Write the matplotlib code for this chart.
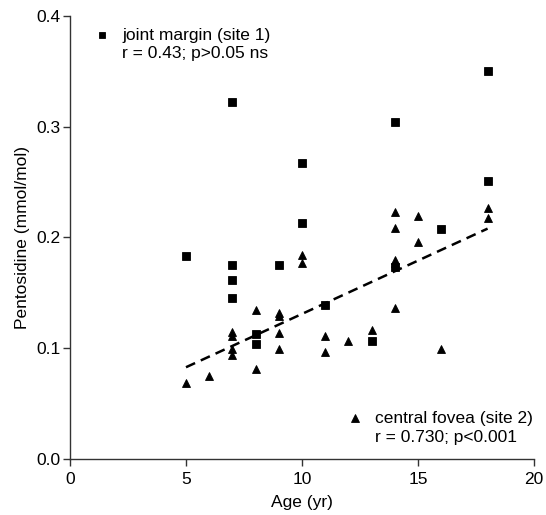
import numpy as np
import matplotlib
matplotlib.use("Agg")
from matplotlib import pyplot as plt

plt.rcParams['font.family'] = ['Liberation Sans', 'DejaVu Sans']

# joint margin (site 1)
site1_age = [5, 7, 7, 7, 7, 8, 8, 9, 10, 10, 11, 13, 14, 14, 16, 18, 18]
site1_pent = [0.183, 0.322, 0.175, 0.162, 0.145, 0.113, 0.104, 0.175, 0.267,
              0.213, 0.139, 0.107, 0.304, 0.173, 0.208, 0.350, 0.251]

# central fovea (site 2)
site2_age = [5, 6, 7, 7, 7, 7, 8, 8, 9, 9, 9, 9, 10, 10, 11, 11, 12, 13,
             14, 14, 14, 14, 14, 15, 15, 16, 18, 18]
site2_pent = [0.069, 0.075, 0.115, 0.111, 0.099, 0.094, 0.135, 0.081, 0.132,
              0.129, 0.114, 0.099, 0.184, 0.177, 0.111, 0.097, 0.107, 0.117,
              0.223, 0.209, 0.180, 0.177, 0.136, 0.219, 0.196, 0.099, 0.227,
              0.218]

# regression line for site 2
fit_age = [5, 18]
fit_pent = [0.083, 0.208]

fig = plt.figure(figsize=(5.46, 5.15), dpi=100)
ax = fig.add_axes([0.1282, 0.1082, 0.8498, 0.8613])

ax.plot(fit_age, fit_pent, ls=(0, (4, 2.5)), color='black', lw=1.8, zorder=2)
ax.plot(site1_age, site1_pent, ls='none', marker='s', ms=5.4, mew=0.6,
        color='black', zorder=3)
ax.plot(site2_age, site2_pent, ls='none', marker='^', ms=5.8, mew=0.6,
        color='black', zorder=3)

ax.set_xlim(0, 20)
ax.set_ylim(0, 0.4)
ax.set_xticks([0, 5, 10, 15, 20])
ax.set_yticks([0.0, 0.1, 0.2, 0.3, 0.4])
ax.set_yticklabels(['0.0', '0.1', '0.2', '0.3', '0.4'])
for s in ['top', 'right']:
    ax.spines[s].set_visible(False)
for s in ['left', 'bottom']:
    ax.spines[s].set_linewidth(1.0)
    ax.spines[s].set_color('#333333')
ax.tick_params(axis='x', direction='out', length=5, width=1.0, color='#333333',
               labelsize=12.5, pad=4)
ax.tick_params(axis='y', direction='out', length=5, width=1.0, color='#333333',
               labelsize=12.5, pad=2)
ax.set_xlabel('Age (yr)', fontsize=12.5, labelpad=6)
ax.set_ylabel('Pentosidine (mmol/mol)', fontsize=12.5, labelpad=4)

# legend-like annotations
ax.plot([1.4], [0.3825], ls='none', marker='s', ms=5.0, mew=0.6, color='black',
        clip_on=False)
ax.text(2.25, 0.3825, 'joint margin (site 1)', fontsize=12.5, va='center')
ax.text(2.25, 0.3655, 'r = 0.43; p>0.05 ns', fontsize=12.5, va='center')

ax.plot([12.3], [0.0368], ls='none', marker='^', ms=5.6, mew=0.6, color='black')
ax.text(13.15, 0.0368, 'central fovea (site 2)', fontsize=12.5, va='center')
ax.text(13.15, 0.0198, 'r = 0.730; p<0.001', fontsize=12.5, va='center')

fig.savefig('out.png', dpi=100)
